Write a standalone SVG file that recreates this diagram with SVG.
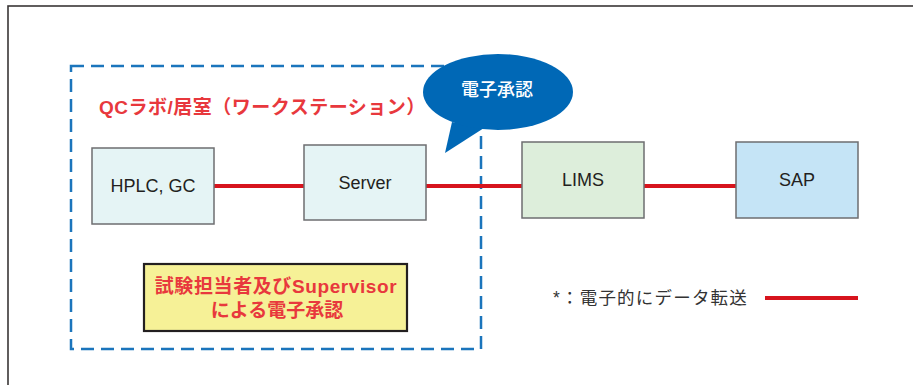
<svg xmlns="http://www.w3.org/2000/svg" width="913" height="385" viewBox="0 0 913 385">
  <style>
    .node { stroke: #6d6e70; stroke-width: 1.5; }
    .nlabel { font-family: "Liberation Sans", Arial, sans-serif; font-size: 18px; fill: #231f20; text-anchor: middle; dominant-baseline: central; }
    .link { stroke: #d7141d; stroke-width: 4; fill: none; }
    .jp { font-family: "Liberation Sans", "Noto Sans CJK JP", sans-serif; }
  </style>
  <rect x="0" y="0" width="913" height="385" fill="#ffffff"/>
  <!-- outer frame -->
  <rect x="8" y="6" width="930" height="400" fill="none" stroke="#3a3636" stroke-width="1.6"/>

  <!-- dashed area -->
  <g id="area">
    <rect x="71" y="66" width="410" height="283" fill="none" stroke="#1b75bc" stroke-width="2.5" stroke-dasharray="13 7"/>
    <text x="99" y="107" class="jp" font-size="19" font-weight="bold" letter-spacing="0.5" fill="#e8383d" dominant-baseline="central">QCラボ/居室（ワークステーション）</text>
  </g>

  <!-- connectors -->
  <g id="connectors">
    <line class="link" x1="214" y1="186" x2="304" y2="186"/>
    <line class="link" x1="426" y1="186" x2="522" y2="186"/>
    <line class="link" x1="644" y1="186" x2="736" y2="186"/>
  </g>

  <g id="hplc">
    <rect class="node" x="92" y="148" width="122" height="76" fill="#e5f4f5"/>
    <text class="nlabel" x="153" y="186">HPLC, GC</text>
  </g>
  <g id="server">
    <rect class="node" x="304" y="145" width="122" height="75" fill="#e5f4f5"/>
    <text class="nlabel" x="365" y="183">Server</text>
  </g>
  <g id="lims">
    <rect class="node" x="522" y="142" width="122" height="76" fill="#ddeedb"/>
    <text class="nlabel" x="583" y="180">LIMS</text>
  </g>
  <g id="sap">
    <rect class="node" x="736" y="142" width="122" height="76" fill="#c5e4f6"/>
    <text class="nlabel" x="797" y="180">SAP</text>
  </g>

  <!-- speech bubble -->
  <g id="bubble">
    <path d="M452,122 L445,153 L484,128 Z" fill="#0068b6"/>
    <ellipse cx="498" cy="92" rx="75" ry="38" fill="#0068b6"/>
    <text x="497" y="90" class="jp" font-size="18" font-weight="500" fill="#ffffff" text-anchor="middle" dominant-baseline="central">電子承認</text>
  </g>

  <!-- yellow note -->
  <g id="note">
    <rect x="144" y="264" width="263" height="67" fill="#f6f197" stroke="#231f20" stroke-width="2.2"/>
    <text x="276" y="286" class="jp" font-size="19" font-weight="bold" letter-spacing="0.6" fill="#e8383d" text-anchor="middle" dominant-baseline="central">試験担当者及びSupervisor</text>
    <text x="277" y="310" class="jp" font-size="19" font-weight="bold" fill="#e8383d" text-anchor="middle" dominant-baseline="central">による電子承認</text>
  </g>

  <!-- legend -->
  <g id="legend">
    <text x="553" y="298" class="jp" font-size="17.5" letter-spacing="1.2" fill="#333333" dominant-baseline="central">*：電子的にデータ転送</text>
    <line class="link" x1="765" y1="298" x2="858" y2="298"/>
  </g>
</svg>
